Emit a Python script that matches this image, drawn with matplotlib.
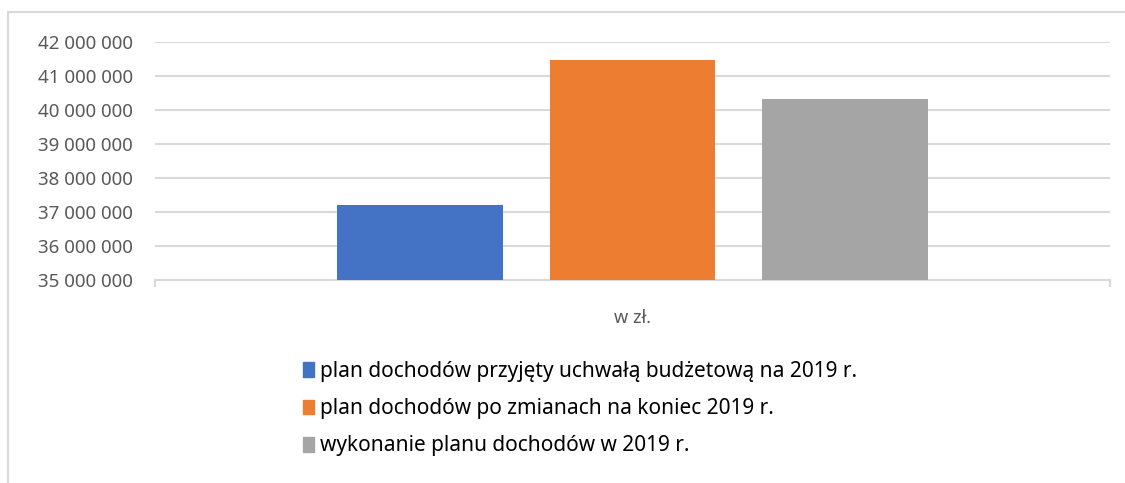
import matplotlib
matplotlib.use("Agg")
import matplotlib.pyplot as plt
import matplotlib.patches as mpatches
from matplotlib.ticker import FuncFormatter

plt.rcParams["font.family"] = ["Noto Sans", "DejaVu Sans"]

# dane
kategoria = "w zł."
serie = [
    "plan dochodów przyjęty uchwałą budżetową na 2019 r.",
    "plan dochodów po zmianach na koniec 2019 r.",
    "wykonanie planu dochodów w 2019 r.",
]
wartosci = [37_200_000, 41_470_000, 40_320_000]
kolory = ["#4472C4", "#ED7D31", "#A5A5A5"]
y_ticks = [35_000_000, 36_000_000, 37_000_000, 38_000_000,
           39_000_000, 40_000_000, 41_000_000, 42_000_000]

W, H = 1125, 483
fig = plt.figure(figsize=(W / 100, H / 100), dpi=100)

# ramka wykresu (ucięta z prawej i z dołu)
fig.patches.append(mpatches.Rectangle((8 / W, -0.1), 1.2, 1 - 12 / H + 0.1,
                                      transform=fig.transFigure, fill=False,
                                      edgecolor="#D9D9D9", linewidth=1.5))

ax = fig.add_axes([155 / W, 1 - 280 / H, (1110 - 155) / W, (280 - 42) / H])

pozycje = [-1, 0, 1]
for x, v, c in zip(pozycje, wartosci, kolory):
    ax.bar(x, v - y_ticks[0], bottom=y_ticks[0], width=0.78, color=c, zorder=3)

ax.set_xlim(-2.247, 2.247)
ax.set_ylim(y_ticks[0], y_ticks[-1])
ax.set_yticks(y_ticks)
ax.yaxis.set_major_formatter(FuncFormatter(lambda v, p: f"{int(v):,}".replace(",", " ")))
ax.grid(axis="y", color="#D9D9D9", linewidth=1.5, zorder=0)
ax.set_xticks([])
for s in ["top", "right", "left"]:
    ax.spines[s].set_visible(False)
ax.spines["bottom"].set_color("#D9D9D9")
ax.spines["bottom"].set_linewidth(1.5)
ax.tick_params(axis="y", length=0, pad=16, labelsize=13.5, labelcolor="#595959")
# znaczniki na końcach osi kategorii
for xe in ax.get_xlim():
    ax.plot([xe, xe], [0, -0.025], transform=ax.get_xaxis_transform(),
            color="#D9D9D9", linewidth=1.5, clip_on=False)

ax.text(0, -0.16, kategoria, transform=ax.get_xaxis_transform(), ha="center",
        va="center", fontsize=13, color="#595959")

uchwyty = [mpatches.Patch(color=c) for c in kolory]
fig.legend(uchwyty, serie, loc="upper left", bbox_to_anchor=(303 / W, 1 - 361 / H),
           frameon=False, fontsize=15, handlelength=0.55, handleheight=0.7,
           handletextpad=0.25, labelspacing=0.78, borderpad=0, borderaxespad=0)

fig.savefig("out.png", dpi=100)
